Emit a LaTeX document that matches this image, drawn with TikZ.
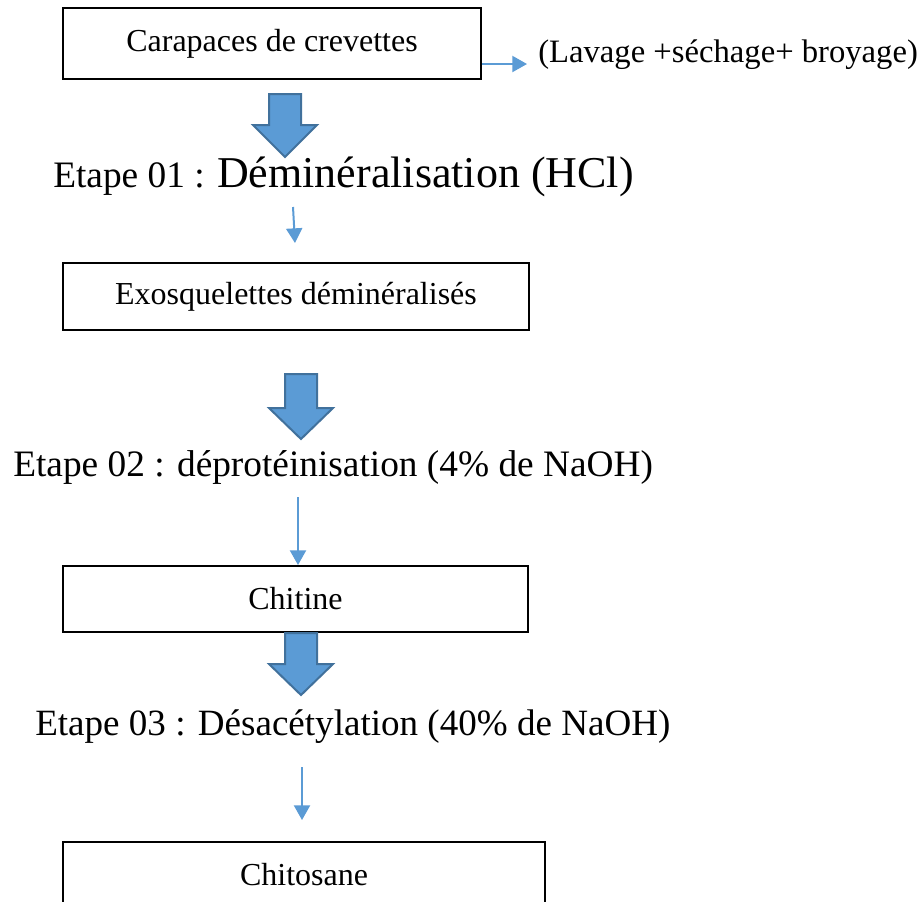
\documentclass[tikz,border=0pt]{standalone}
\usepackage{fontspec}
\setmainfont{Liberation Serif}
\usetikzlibrary{arrows.meta,calc}
\definecolor{bfill}{HTML}{5B9BD5}
\definecolor{bdraw}{HTML}{41719C}
\begin{document}
\begin{tikzpicture}[x=0.75pt,y=-0.75pt,
  box/.style={draw=black,line width=1.5pt,fill=white,inner sep=0pt,font=\fontsize{24}{28}\selectfont},
  etape/.style={inner sep=0pt,anchor=base west,font=\fontsize{28}{32}\selectfont},
  sidetext/.style={inner sep=0pt,anchor=west,font=\fontsize{24.5}{28}\selectfont},
  thinarr/.style={draw=bfill,line width=1.5pt,-{Triangle[length=11pt,width=12pt]}},
  blockarr/.style={fill=bfill,draw=bdraw,line width=1.5pt,line join=miter}]
\clip (0,0) rectangle (923,901);
\fill[white] (0,0) rectangle (923,901);
% boxes
\node[box,minimum width=418*0.75pt,minimum height=71*0.75pt] (box1) at (272,43.5) {Carapaces de crevettes};
\node[box,minimum width=466*0.75pt,minimum height=67*0.75pt] (box2) at (296,296.5) {Exosquelettes déminéralisés};
\node[box,minimum width=465*0.75pt,minimum height=66*0.75pt] (box3) at (295.5,599) {Chitine};
\node[box,minimum width=482*0.75pt,minimum height=66*0.75pt] (box4) at (304,875) {Chitosane};
% side text
\node[sidetext] (lav) at (538,55) {(Lavage +séchage+ broyage)};
\draw[thinarr] ($(box1.south east)+(0,-16)$) -- ($(box1.south east)+(45,-16)$);
% step texts
\node[etape] (e1) at (53,187) {Etape 01 : {\fontsize{33}{38}\selectfont Déminéralisation (HCl)}};
\node[etape] (e2) at (13,476) {Etape 02 : déprotéinisation (4\% de NaOH)};
\node[etape,font=\fontsize{27.8}{32}\selectfont] (e3) at (35,735) {Etape 03 : Désacétylation (40\% de NaOH)};
% block arrows
\newcommand{\blockarrow}[4]{%
  \draw[blockarr] (#1-16,#2) -- (#1+16,#2) -- (#1+16,#3) -- (#1+32,#3) -- (#1,#4) -- (#1-32,#3) -- (#1-16,#3) -- cycle;}
\blockarrow{285}{94}{125}{157}
\blockarrow{301}{374}{408}{439}
\blockarrow{301}{633}{664}{695}
% thin arrows
\coordinate (a1s) at (293,207); \coordinate (a1e) at (295,243);
\coordinate (a2s) at (298,497); \coordinate (a2e) at (298,565);
\coordinate (a3s) at (302,767); \coordinate (a3e) at (302,820);
\draw[thinarr] (a1s) -- (a1e);
\draw[thinarr] (a2s) -- (a2e);
\draw[thinarr] (a3s) -- (a3e);
\end{tikzpicture}
\end{document}
